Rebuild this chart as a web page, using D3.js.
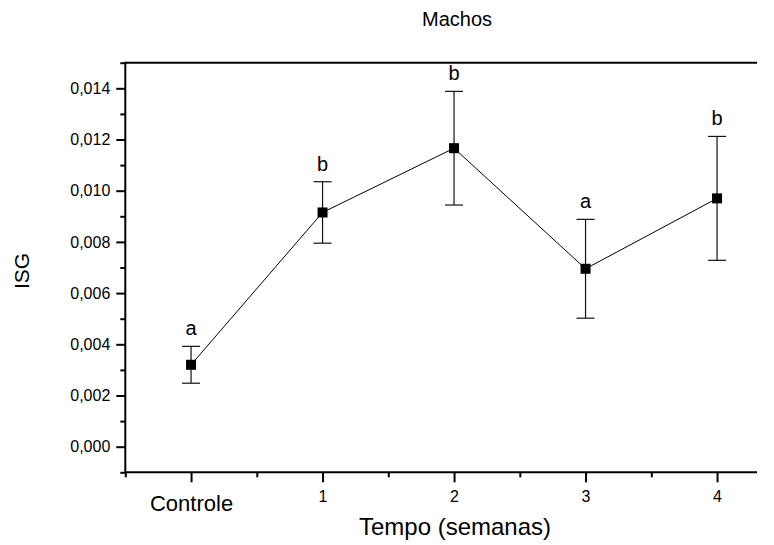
<!DOCTYPE html>
<html>
<head>
<meta charset="utf-8">
<script src="https://cdn.jsdelivr.net/npm/d3@7/dist/d3.min.js"></script>
<style>
  html, body { margin: 0; padding: 0; background: #fff; }
  svg { display: block; font-family: "Liberation Sans", Arial, sans-serif; }
</style>
</head>
<body>
<svg id="chart" width="774" height="545"></svg>
<script>
// ISG por tempo de exposição (machos): média ± erro
const categories = ["Controle", "1", "2", "3", "4"];
const means      = [0.00320, 0.00915, 0.01166, 0.00695, 0.00970];
const errors     = [0.00072, 0.00120, 0.00222, 0.00193, 0.00242];
const letters    = ["a", "b", "b", "a", "b"];
const yTicks     = [0, 0.002, 0.004, 0.006, 0.008, 0.010, 0.012, 0.014];
const yMinor     = [-0.001, 0.001, 0.003, 0.005, 0.007, 0.009, 0.011, 0.013, 0.015];
const xMinor     = [-0.5, 0.5, 1.5, 2.5, 3.5];

const svg = d3.select("#chart");
const plotLeft = 125.3, plotTop = 62.7, plotBottom = 472.3, frameRight = 757;
const step = 131.5;

const x = d3.scaleLinear().domain([-0.5, 4.5]).range([plotLeft, plotLeft + 5 * step]);
const y = d3.scaleLinear().domain([-0.001, 0.015]).range([plotBottom, plotTop]);

const fmt = d => d3.format(".3f")(d).replace(".", ",");
const FONT = "Liberation Sans, Arial, sans-serif";

// minor ticks
svg.append("g").attr("transform", `translate(${plotLeft},0)`)
  .call(d3.axisLeft(y).tickValues(yMinor).tickSize(5).tickFormat(""))
  .call(g => g.select(".domain").remove())
  .call(g => g.selectAll("line").attr("stroke", "#000").attr("stroke-width", 2));
svg.append("g").attr("transform", `translate(0,${plotBottom})`)
  .call(d3.axisBottom(x).tickValues(xMinor).tickSize(5).tickFormat(""))
  .call(g => g.select(".domain").remove())
  .call(g => g.selectAll("line").attr("stroke", "#000").attr("stroke-width", 2));

// y axis
svg.append("g").attr("transform", `translate(${plotLeft},0)`)
  .call(d3.axisLeft(y).tickValues(yTicks).tickSize(9).tickPadding(6).tickFormat(fmt))
  .call(g => g.select(".domain").remove())
  .call(g => g.selectAll("line").attr("stroke", "#000").attr("stroke-width", 2))
  .call(g => g.selectAll("text").attr("font-size", 16).attr("fill", "#000").attr("font-family", FONT));

// x axis
const xAxis = svg.append("g").attr("transform", `translate(0,${plotBottom})`)
  .call(d3.axisBottom(x).tickValues(d3.range(categories.length)).tickSize(10).tickPadding(8)
    .tickFormat(i => categories[i]))
  .call(g => g.select(".domain").remove())
  .call(g => g.selectAll("line").attr("stroke", "#000").attr("stroke-width", 2))
  .call(g => g.selectAll("text").attr("font-size", 16).attr("fill", "#000").attr("font-family", FONT));
xAxis.selectAll("text").filter(i => i === 0).attr("font-size", 22).attr("dy", "0.95em");

// frame (left, top, bottom)
const frame = svg.append("g").attr("stroke", "#000").attr("stroke-width", 2).attr("fill", "none");
frame.append("line").attr("x1", plotLeft).attr("x2", plotLeft).attr("y1", plotTop - 1).attr("y2", plotBottom + 1);
frame.append("line").attr("x1", plotLeft).attr("x2", frameRight).attr("y1", plotTop).attr("y2", plotTop);
frame.append("line").attr("x1", plotLeft).attr("x2", frameRight).attr("y1", plotBottom).attr("y2", plotBottom);

// error bars
const eb = svg.append("g").attr("stroke", "#111").attr("stroke-width", 1.2);
const capW = 9;
means.forEach((m, i) => {
  const cx = x(i), yt = y(m + errors[i]), yb = y(m - errors[i]);
  eb.append("line").attr("x1", cx).attr("x2", cx).attr("y1", yt).attr("y2", yb);
  eb.append("line").attr("x1", cx - capW).attr("x2", cx + capW).attr("y1", yt).attr("y2", yt);
  eb.append("line").attr("x1", cx - capW).attr("x2", cx + capW).attr("y1", yb).attr("y2", yb);
});

// connecting line
svg.append("path")
  .datum(means)
  .attr("fill", "none").attr("stroke", "#000").attr("stroke-width", 1)
  .attr("d", d3.line().x((d, i) => x(i)).y(d => y(d)));

// markers
svg.append("g").selectAll("rect").data(means).join("rect")
  .attr("x", (d, i) => x(i) - 5).attr("y", d => y(d) - 5)
  .attr("width", 10).attr("height", 10).attr("fill", "#000");

// significance letters
svg.append("g").selectAll("text").data(letters).join("text")
  .attr("x", (d, i) => x(i)).attr("y", (d, i) => y(means[i] + errors[i]) - 11)
  .attr("text-anchor", "middle").attr("font-size", 20).attr("fill", "#000")
  .text(d => d);

// titles
svg.append("text").attr("x", 457).attr("y", 26).attr("text-anchor", "middle")
  .attr("font-size", 20).attr("fill", "#000").text("Machos");
svg.append("text").attr("x", 455).attr("y", 535).attr("text-anchor", "middle")
  .attr("font-size", 24).attr("fill", "#000").text("Tempo (semanas)");
svg.append("text").attr("transform", "translate(29,271) rotate(-90)").attr("text-anchor", "middle")
  .attr("font-size", 21).attr("fill", "#000").text("ISG");
</script>
</body>
</html>
